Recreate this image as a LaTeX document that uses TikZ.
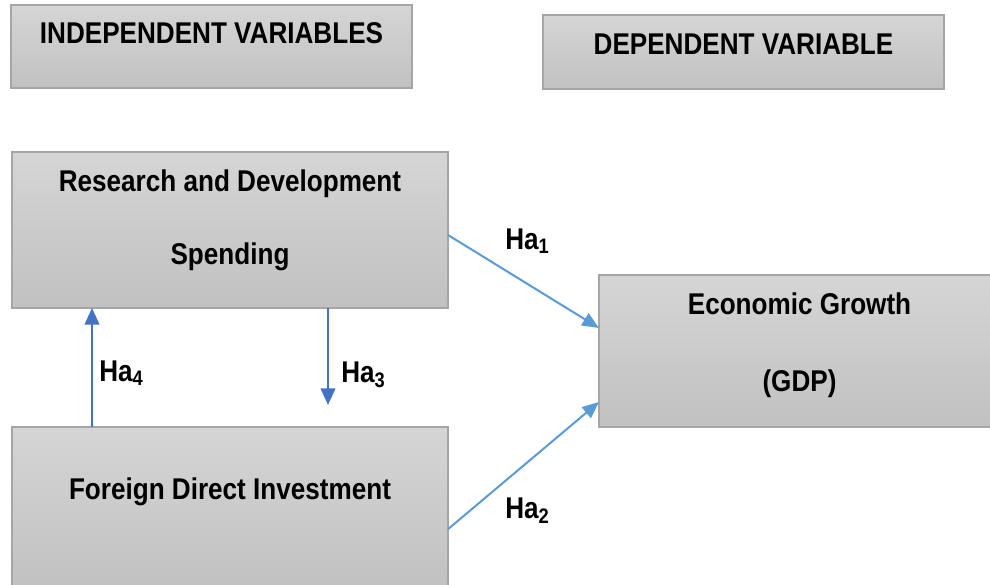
\documentclass[tikz,border=0pt]{standalone}
\usepackage{fontspec}
\setmainfont{Liberation Sans}[FakeStretch=0.87]
\usepackage{tikz}
\usetikzlibrary{positioning,arrows.meta}

\definecolor{boxtop}{RGB}{213,213,213}
\definecolor{boxbot}{RGB}{193,193,193}
\definecolor{boxline}{RGB}{165,165,165}
\definecolor{lightarrow}{RGB}{91,155,213}
\definecolor{darkarrow}{RGB}{68,114,196}

\tikzset{
  varbox/.style={rectangle, draw=boxline, line width=0.9pt, top color=boxtop,
    bottom color=boxbot, outer sep=0pt, inner sep=0pt},
  boxtext/.style={anchor=base, inner sep=0pt, font=\fontsize{22.5}{27}\selectfont\bfseries},
  halabel/.style={anchor=base west, inner sep=0pt, font=\fontsize{22.5}{27}\selectfont\bfseries},
  effect/.style={line width=1.5pt, lightarrow, -{Triangle[length=12.5pt,width=10.5pt]}},
  link/.style={line width=1.6pt, darkarrow, -{Triangle[length=12.5pt,width=11pt]}}
}

\begin{document}
\begin{tikzpicture}[x=0.75pt,y=-0.75pt]
        \useasboundingbox (0,0) rectangle (990,585);
        \clip (0,0) rectangle (990,585);
        % headings
        \node[varbox, minimum width=300.75pt, minimum height=62.25pt] (iv) at (211.5,46.5) {};
        \node[varbox, minimum width=300.75pt, minimum height=55.5pt] (dv) at (743.5,52) {};
        \node[boxtext] (ivtext) at ([yshift=-29.25pt]iv.north) {INDEPENDENT VARIABLES};
        \node[boxtext] (dvtext) at ([yshift=-30pt]dv.north) {DEPENDENT VARIABLE};
        % variables
        \node[varbox, minimum width=327pt, minimum height=117pt] (rnd) at (230,230) {};
        \node[varbox, minimum width=327pt, minimum height=122.25pt, below=89.25pt of rnd] (fdi) {};
        \node[varbox, minimum width=300.75pt, minimum height=114pt] (eg) at (799.5,351) {};
        \node[boxtext] (rndtop) at ([yshift=-29.25pt]rnd.north) {Research and Development};
        \node[boxtext] (rndbot) at ([yshift=-84pt]rnd.north) {Spending};
        \node[boxtext] (fditext) at ([yshift=-54pt]fdi.north) {Foreign Direct Investment};
        \node[boxtext] (egtop) at ([yshift=-29.25pt]eg.north) {Economic Growth};
        \node[boxtext] (egbot) at ([yshift=-87pt]eg.north) {(GDP)};
        \coordinate (ha3end) at ([xshift=73.5pt,yshift=16.5pt]fdi.north);
        % hypotheses
        \draw[effect] ([yshift=-3.75pt]rnd.east) -- ([yshift=17.25pt]eg.west);
        \draw[effect] ([yshift=-15.5pt]fdi.east) -- ([yshift=-38.25pt]eg.west);
        \draw[link] ([xshift=-103.5pt]fdi.north) -- ([xshift=-103.5pt]rnd.south);
        \draw[link] ([xshift=73.5pt]rnd.south) -- (ha3end);
        \node[halabel] (ha1) at (505,249) {Ha\textsubscript{1}};
        \node[halabel] (ha2) at (505,518) {Ha\textsubscript{2}};
        \node[halabel] (ha3) at (341,382) {Ha\textsubscript{3}};
        \node[halabel] (ha4) at (99,381) {Ha\textsubscript{4}};
    \end{tikzpicture}
\end{document}
